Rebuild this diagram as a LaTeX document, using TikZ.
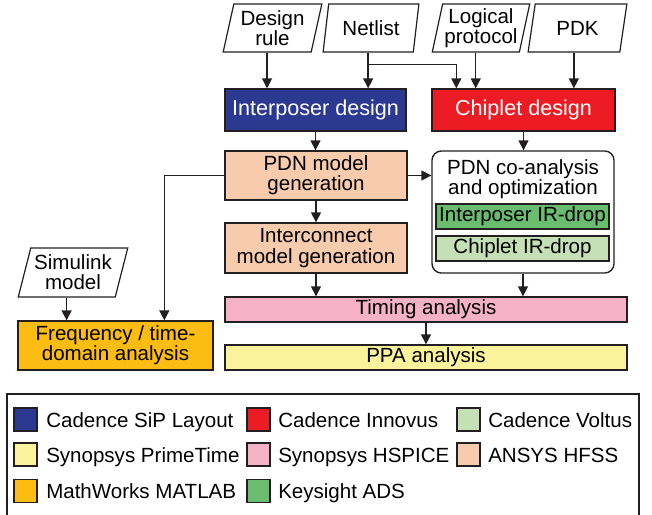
\documentclass[tikz,border=0pt]{standalone}
\usepackage{fontspec}
\setmainfont{Liberation Sans}
\usetikzlibrary{arrows.meta,shapes.geometric,calc}
\definecolor{lineC}{RGB}{35,31,32}
\definecolor{cBlue}{RGB}{43,57,144}
\definecolor{cRed}{RGB}{237,28,36}
\definecolor{cPeach}{RGB}{248,203,173}
\definecolor{cGreen}{RGB}{106,189,110}
\definecolor{cLGreen}{RGB}{197,224,180}
\definecolor{cPink}{RGB}{245,178,198}
\definecolor{cYellow}{RGB}{251,243,156}
\definecolor{cOrange}{RGB}{253,188,17}
\begin{document}
\begin{tikzpicture}[x=0.75pt,y=-0.75pt,
  every node/.style={font=\fontsize{15.4}{15.2}\selectfont},
  box/.style={draw=lineC, line width=1pt, inner sep=0pt, align=center},
  io/.style={trapezium, trapezium stretches=true, trapezium left angle=76, trapezium right angle=104,
     draw=lineC, line width=0.9pt, fill=white, inner sep=0pt, align=center, minimum height=36pt},
  arr/.style={-{Triangle[length=7.5pt,width=7.5pt]}, line width=1pt, draw=lineC},
  sw/.style={draw=lineC, line width=0.8pt, minimum size=17.25pt, inner sep=0pt},
  lg/.style={anchor=base west, inner sep=0pt},
  big/.style={font=\fontsize{16.2}{17}\selectfont, text=white}]
\useasboundingbox (0,0) rectangle (652,514);

% inputs
\node[io, minimum width=74.25pt] (dr) at (272.5,28) {Design\\rule};
\node[io, minimum width=72pt] (nl) at (371,28) {Netlist};
\node[io, minimum width=73.5pt] (lp) at (481,28) {Logical\\protocol};
\node[io, minimum width=74.25pt] (pdk) at (577.5,28) {PDK};
\node[io, minimum width=82.5pt, minimum height=36.75pt, trapezium left angle=72, trapezium right angle=108] (sim) at (73,272.5) {Simulink\\model};

\coordinate (drB) at ($(dr.bottom left corner)!0.5!(dr.bottom right corner)$);
\coordinate (nlB) at ($(nl.bottom left corner)!0.5!(nl.bottom right corner)$);
\coordinate (lpB) at ($(lp.bottom left corner)!0.5!(lp.bottom right corner)$);
\coordinate (pdkB) at ($(pdk.bottom left corner)!0.5!(pdk.bottom right corner)$);
\coordinate (simB) at ($(sim.bottom left corner)!0.5!(sim.bottom right corner)$);

% boxes
\node[box, big, fill=cBlue, minimum width=135.75pt, minimum height=31.5pt] (interp) at (315.5,110) {Interposer design};
\node[box, big, fill=cRed, minimum width=137.25pt, minimum height=31.5pt] (chiplet) at (523.5,110) {Chiplet design};
\node[box, fill=cPeach, minimum width=136.5pt, minimum height=36.75pt] (pdn) at (316,175.5) {PDN model\\generation};
\node[box, fill=cPeach, minimum width=136.5pt, minimum height=37.5pt] (intercon) at (316,248) {Interconnect\\model generation};
\node[box, rounded corners=7pt, fill=white, minimum width=136.5pt, minimum height=91.5pt] (coan) at (523,212) {};
\node[align=center, inner sep=0pt] (coanT) at (523,179.5) {PDN co-analysis\\and optimization};
\node[box, fill=cGreen, minimum width=129.75pt, minimum height=18.75pt] (irint) at (522.5,216.5) {Interposer IR-drop};
\node[box, fill=cLGreen, minimum width=129.75pt, minimum height=18.75pt] (irchip) at (522.5,248.5) {Chiplet IR-drop};
\node[box, fill=cPink, minimum width=301.5pt, minimum height=18.75pt] (timing) at (426,309.5) {Timing analysis};
\node[box, fill=cYellow, minimum width=301.5pt, minimum height=18.75pt] (ppa) at (426,357.5) {PPA analysis};
\node[box, fill=cOrange, minimum width=146.25pt, minimum height=36.75pt] (freq) at (115.5,345.5) {Frequency / time-\\domain analysis};

% connectors
\draw[arr] (drB) -- (drB |- interp.north);
\draw[arr] (nlB) -- (nlB |- interp.north);
\coordinate (nlJ) at ($(nlB)+(0,12)$);
\coordinate (chIn) at ($(chiplet.north west)+(25,0)$);
\draw[arr] (nlJ) -| (chIn);
\draw[arr] (lpB) -- (lpB |- chiplet.north);
\draw[arr] (pdkB) -- (pdkB |- chiplet.north);
\draw[arr] (interp.south) -- (interp.south |- pdn.north);
\draw[arr] (chiplet.south) -- (chiplet.south |- coan.north);
\draw[arr] (pdn.south) -- (pdn.south |- intercon.north);
\coordinate (frIn) at ($(freq.north west)+(147,0)$);
\draw[arr] (pdn.west) -| (frIn);
\draw[arr] (pdn.east) -- (pdn.east -| coan.west);
\draw[arr] (simB) -- (simB |- freq.north);
\draw[arr] (intercon.south) -- (intercon.south |- timing.north);
\draw[arr] (coan.south) -- (coan.south |- timing.north);
\draw[arr] (timing.south) -- (timing.south |- ppa.north);

% legend
\draw[line width=0.8pt, draw=lineC] (7,520) -- (7,394) -- (639,394) -- (639,520);
\node[sw, fill=cBlue] (s1) at (25.5,419.5) {};
\node[lg] (l1) at (46,427) {Cadence SiP Layout};
\node[sw, fill=cRed] (s2) at (258.5,419.5) {};
\node[lg] (l2) at (278,427) {Cadence Innovus};
\node[sw, fill=cLGreen] (s3) at (468.5,419.5) {};
\node[lg] (l3) at (488,427) {Cadence Voltus};
\node[sw, fill=cYellow] (s4) at (25.5,454.5) {};
\node[lg] (l4) at (46,462) {Synopsys PrimeTime};
\node[sw, fill=cPink] (s5) at (258.5,454.5) {};
\node[lg] (l5) at (278,462) {Synopsys HSPICE};
\node[sw, fill=cPeach] (s6) at (468.5,454.5) {};
\node[lg] (l6) at (488,462) {ANSYS HFSS};
\node[sw, fill=cOrange] (s7) at (25.5,491) {};
\node[lg] (l7) at (46,498.5) {MathWorks MATLAB};
\node[sw, fill=cGreen] (s8) at (258.5,491) {};
\node[lg] (l8) at (278,498.5) {Keysight ADS};
\end{tikzpicture}
\end{document}
